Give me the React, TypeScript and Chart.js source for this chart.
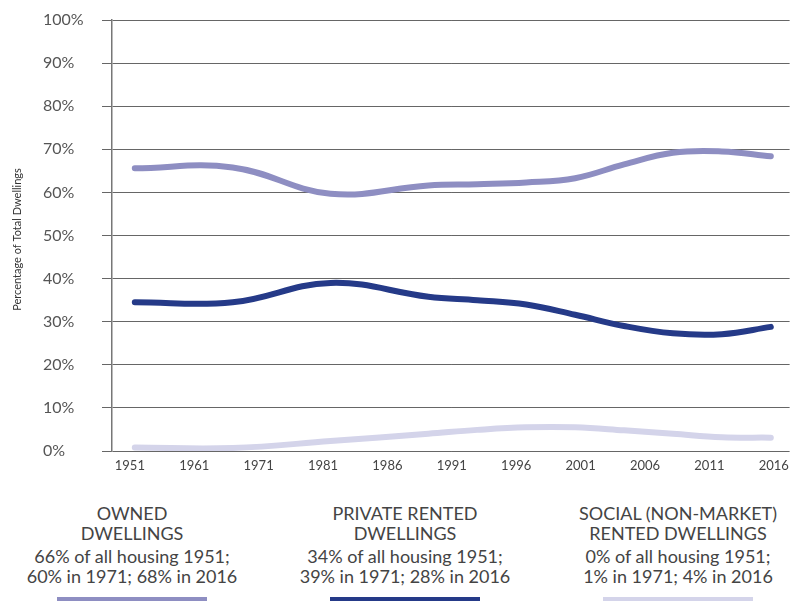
import React, { useEffect, useRef } from "react";
import { Chart, registerables } from "chart.js";

Chart.register(...registerables);

// ---- Data ----
const years = [1951, 1961, 1971, 1981, 1986, 1991, 1996, 2001, 2006, 2011, 2016];
const tickLabels = ["1951", "1961", "1971", "1981", "1986", "1991", "1996", "2001", "2006", "2011", "2016"];
const owned = [65.6, 65.8, 59.7, 61.6, 61.9, 62.3, 63.3, 66.5, 69.2, 69.5, 68.4];
const privateRented = [34.5, 34.5, 39.0, 35.8, 35.0, 34.0, 31.6, 29.0, 27.3, 27.1, 28.8];
const social = [0.8, 0.7, 2.3, 4.0, 4.9, 5.5, 5.5, 4.8, 4.0, 3.2, 3.1];

const seriesNames = ["OWNED\nDWELLINGS", "PRIVATE RENTED\nDWELLINGS", "SOCIAL (NON-MARKET)\nRENTED DWELLINGS"];
const seriesNotes = [
  "66% of all housing 1951;\n60% in 1971; 68% in 2016",
  "34% of all housing 1951;\n39% in 1971; 28% in 2016",
  "0% of all housing 1951;\n1% in 1971; 4% in 2016",
];
const seriesColors = ["#8e8ec2", "#253a88", "#d4d4ea"];
const yTitle = "Percentage of Total Dwellings";

const FONT = "Lato, 'Open Sans', sans-serif";

const yTitlePlugin = {
  id: "yTitle",
  afterDraw(chart: any) {
    const { ctx, chartArea } = chart;
    ctx.save();
    ctx.translate(17, (chartArea.top + chartArea.bottom) / 2 + 4);
    ctx.rotate(-Math.PI / 2);
    ctx.textAlign = "center";
    ctx.textBaseline = "middle";
    ctx.fillStyle = "#333";
    ctx.font = `400 11px ${FONT}`;
    ctx.fillText(yTitle, 0, 0);
    ctx.restore();
  },
};

export default function App() {
  const canvasRef = useRef<HTMLCanvasElement | null>(null);

  useEffect(() => {
    if (!canvasRef.current) return;
    const mk = (vals: number[]) => years.map((x, i) => ({ x, y: vals[i] }));
    const seriesData = [owned, privateRented, social];
    const chart = new Chart(canvasRef.current, {
      type: "line",
      data: {
        datasets: seriesData.map((vals, i) => ({
          label: seriesNames[i],
          data: mk(vals),
          borderColor: seriesColors[i],
          backgroundColor: seriesColors[i],
          borderWidth: 6,
          pointRadius: 0,
          tension: 0.4,
          borderCapStyle: "round" as const,
          xAxisID: "x",
          yAxisID: "y",
        })),
      },
      options: {
        responsive: false,
        animation: false,
        layout: { padding: { top: 20, left: 43, right: 0, bottom: 0 } },
        plugins: { legend: { display: false }, tooltip: { enabled: false } },
        scales: {
          x: { type: "linear", min: 1948.67, max: 2017.92, display: false },
          x2: {
            type: "linear",
            position: "bottom",
            min: -0.277,
            max: 10.246,
            afterBuildTicks: (s: any) => {
              s.ticks = tickLabels.map((_, i) => ({ value: i }));
            },
            afterFit: (s: any) => {
              s.height = 29;
            },
            ticks: {
              autoSkip: false,
              maxRotation: 0,
              padding: 7,
              color: "#444",
              font: { family: FONT, size: 13, weight: "400" as any },
              callback: (v: any) => tickLabels[Math.round(Number(v))] ?? "",
            },
            grid: { display: false, drawTicks: false },
            border: { display: false },
          },
          y: {
            min: 0,
            max: 100,
            afterFit: (s: any) => {
              s.width = 69;
            },
            ticks: {
              stepSize: 10,
              crossAlign: "far",
              color: "#555",
              font: { family: FONT, size: 16, weight: "400" as any },
              callback: (v: any) => `${v}%`,
            },
            grid: { color: "#666", lineWidth: 1, tickLength: 10 },
            border: { color: "#777", width: 1.5 },
          },
        },
      },
      plugins: [yTitlePlugin],
    });
    return () => chart.destroy();
  }, []);

  const centers = [132, 405, 678];

  return (
    <div style={{ position: "absolute", left: 0, top: 0, width: 796, height: 601, background: "#fff", overflow: "hidden" }}>
      <canvas ref={canvasRef} width={796} height={480} style={{ display: "block" }} />
      {centers.map((cx, i) => (
        <div
          key={i}
          style={{
            position: "absolute",
            left: cx - 140,
            width: 280,
            top: 503,
            textAlign: "center",
            fontFamily: FONT,
            fontWeight: 400,
            fontSize: 18,
            lineHeight: "20px",
            color: "#444",
            whiteSpace: "pre-line",
          }}
        >
          <div>{seriesNames[i]}</div>
          <div style={{ marginTop: 3 }}>{seriesNotes[i]}</div>
        </div>
      ))}
      {centers.map((cx, i) => (
        <div
          key={"b" + i}
          style={{ position: "absolute", left: cx - 75, width: 150, top: 597, height: 4, background: seriesColors[i] }}
        />
      ))}
    </div>
  );
}
